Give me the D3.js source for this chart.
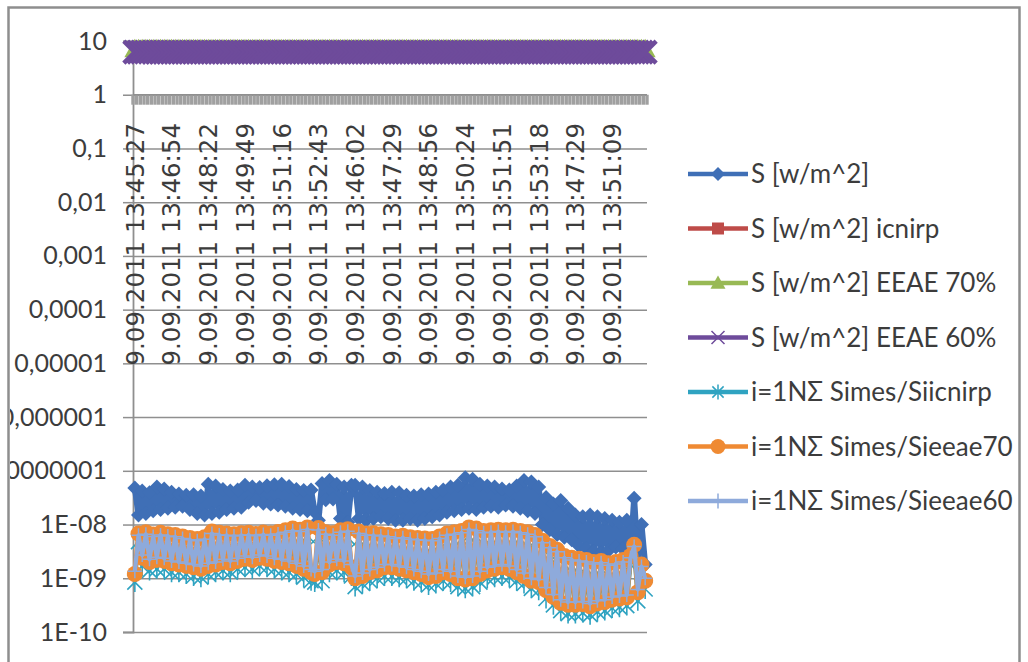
<!DOCTYPE html>
<html>
<head>
<meta charset="utf-8">
<script src="https://cdn.jsdelivr.net/npm/d3@7"></script>
<style>
  html, body { margin: 0; padding: 0; background: #fff; }
  svg { display: block; }
</style>
</head>
<body>
<div id="chart"></div>
<script>
// x tick labels, one every `labelEvery` samples
const tickLabels = [
  '9.09.2011 13:45:27', '9.09.2011 13:46:54', '9.09.2011 13:48:22', '9.09.2011 13:49:49',
  '9.09.2011 13:51:16', '9.09.2011 13:52:43', '9.09.2011 13:46:02', '9.09.2011 13:47:29',
  '9.09.2011 13:48:56', '9.09.2011 13:50:24', '9.09.2011 13:51:51', '9.09.2011 13:53:18',
  '9.09.2011 13:47:29', '9.09.2011 13:51:09'
];
const labelEvery = 10;

const yTicks = [10, 1, 0.1, 0.01, 0.001, 1e-4, 1e-5, 1e-6, 1e-7, 1e-8, 1e-9, 1e-10];
const yTickLabels = ['10', '1', '0,1', '0,01', '0,001', '0,0001', '0,00001', '0,000001',
  '0,0000001', '1E-08', '1E-09', '1E-10'];

// limits (constant lines)
const limitIcnirp = 6.5;
const limitEeae70 = 7.0;
const limitEeae60 = 6.2;

// S [w/m^2]
const sTotal = [
  4.8e-8, 1.5e-8, 4.2e-8, 1.6e-8, 3.9e-8, 1.8e-8, 5.0e-8, 1.9e-8, 4.6e-8, 2.0e-8,
  4.0e-8, 2.1e-8, 3.7e-8, 2.2e-8, 3.5e-8, 1.9e-8, 3.6e-8, 1.6e-8, 3.4e-8, 1.5e-8,
  5.6e-8, 1.6e-8, 5.2e-8, 1.7e-8, 4.5e-8, 1.9e-8, 4.2e-8, 2.0e-8, 4.4e-8, 2.1e-8,
  5.4e-8, 2.6e-8, 5.0e-8, 2.8e-8, 4.9e-8, 2.5e-8, 5.3e-8, 2.4e-8, 5.5e-8, 2.3e-8,
  5.6e-8, 2.2e-8, 5.1e-8, 2.0e-8, 4.5e-8, 1.9e-8, 4.3e-8, 1.8e-8, 4.4e-8, 1.7e-8,
  1.2e-8, 5.8e-8, 2.9e-8, 6.6e-8, 3.0e-8, 5.6e-8, 1.3e-8, 5.0e-8, 1.1e-8, 5.4e-8,
  5.4e-8, 1.3e-8, 5.0e-8, 1.2e-8, 4.3e-8, 1.3e-8, 4.0e-8, 1.4e-8, 3.8e-8, 1.3e-8,
  4.0e-8, 1.2e-8, 3.9e-8, 1.2e-8, 3.5e-8, 1.3e-8, 3.4e-8, 1.2e-8, 3.6e-8, 1.3e-8,
  3.7e-8, 1.4e-8, 4.0e-8, 1.5e-8, 4.4e-8, 1.7e-8, 5.0e-8, 1.8e-8, 5.4e-8, 1.9e-8,
  7.4e-8, 2.0e-8, 7.0e-8, 1.9e-8, 5.6e-8, 2.1e-8, 5.2e-8, 2.2e-8, 5.0e-8, 2.1e-8,
  4.6e-8, 2.3e-8, 4.4e-8, 2.2e-8, 5.2e-8, 2.0e-8, 6.6e-8, 1.8e-8, 6.2e-8, 1.6e-8,
  5.0e-8, 1.0e-8, 3.2e-8, 8.0e-9, 2.4e-8, 6.5e-9, 2.8e-8, 5.8e-9, 2.0e-8, 5.2e-9,
  1.5e-8, 4.0e-9, 1.4e-8, 3.6e-9, 1.5e-8, 3.2e-9, 1.4e-8, 3.0e-9, 1.3e-8, 3.3e-9,
  1.2e-8, 3.8e-9, 1.1e-8, 3.5e-9, 1.2e-8, 2.8e-9, 3.1e-8, 2.2e-9, 1.0e-8, 1.8e-9
];

// i=1NΣ Simes/Siicnirp
const sRatioIcnirp = [
  8.5e-10, 4.8e-9, 1.7e-9, 5.0e-9, 1.4e-9, 4.6e-9, 1.5e-9, 4.9e-9, 1.5e-9, 4.6e-9,
  1.3e-9, 4.5e-9, 1.3e-9, 4.2e-9, 1.2e-9, 3.9e-9, 1.1e-9, 3.8e-9, 1.05e-9, 4.1e-9,
  1.2e-9, 5.2e-9, 1.3e-9, 4.9e-9, 1.4e-9, 4.8e-9, 1.3e-9, 4.6e-9, 1.5e-9, 4.8e-9,
  1.6e-9, 4.9e-9, 1.5e-9, 4.7e-9, 1.7e-9, 5.0e-9, 1.6e-9, 4.8e-9, 1.5e-9, 5.1e-9,
  1.4e-9, 5.5e-9, 1.3e-9, 5.9e-9, 1.2e-9, 5.6e-9, 1.05e-9, 6.2e-9, 9.0e-10, 8.5e-10,
  6.0e-9, 9.0e-10, 5.0e-9, 1.3e-9, 4.8e-9, 1.4e-9, 5.5e-9, 1.3e-9, 5.7e-9, 1.1e-9,
  7.0e-10, 5.2e-9, 8.0e-10, 4.8e-9, 9.0e-10, 4.8e-9, 1.0e-9, 4.6e-9, 1.1e-9, 4.5e-9,
  1.1e-9, 4.2e-9, 1.05e-9, 4.3e-9, 1.0e-9, 4.1e-9, 9.0e-10, 3.9e-9, 8.5e-10, 3.9e-9,
  7.5e-10, 3.8e-9, 8.0e-10, 4.2e-9, 9.0e-10, 4.8e-9, 8.5e-10, 5.0e-9, 7.0e-10, 5.3e-9,
  6.5e-10, 6.2e-9, 7.0e-10, 5.9e-9, 8.5e-10, 5.3e-9, 1.0e-9, 5.5e-9, 1.05e-9, 5.6e-9,
  1.1e-9, 5.5e-9, 1.05e-9, 5.6e-9, 9.0e-10, 5.3e-9, 8.0e-10, 5.0e-9, 6.5e-10, 4.5e-9,
  6.0e-10, 3.5e-9, 4.2e-10, 2.8e-9, 3.2e-10, 2.4e-9, 2.5e-10, 1.8e-9, 2.2e-10, 1.7e-9,
  2.2e-10, 1.6e-9, 2.3e-10, 1.5e-9, 2.1e-10, 1.4e-9, 2.4e-10, 1.5e-9, 2.5e-10, 1.3e-9,
  2.8e-10, 1.4e-9, 2.9e-10, 1.5e-9, 3.1e-10, 1.8e-9, 2.9e-9, 3.8e-10, 1.3e-9, 6.3e-10
];

// i=1NΣ Simes/Sieeae70
const sRatio70 = [
  1.2e-9, 6.8e-9, 2.4e-9, 7.2e-9, 2.0e-9, 6.5e-9, 2.2e-9, 7.0e-9, 2.1e-9, 6.6e-9,
  1.9e-9, 6.4e-9, 1.8e-9, 6.0e-9, 1.7e-9, 5.6e-9, 1.6e-9, 5.4e-9, 1.5e-9, 5.8e-9,
  1.7e-9, 7.4e-9, 1.8e-9, 7.0e-9, 2.0e-9, 6.8e-9, 1.9e-9, 6.6e-9, 2.1e-9, 6.9e-9,
  2.3e-9, 7.0e-9, 2.2e-9, 6.7e-9, 2.4e-9, 7.1e-9, 2.3e-9, 6.8e-9, 2.1e-9, 7.3e-9,
  2.0e-9, 7.8e-9, 1.9e-9, 8.4e-9, 1.7e-9, 8.0e-9, 1.5e-9, 8.8e-9, 1.3e-9, 1.2e-9,
  8.6e-9, 1.3e-9, 7.2e-9, 1.8e-9, 6.9e-9, 2.0e-9, 7.8e-9, 1.9e-9, 8.2e-9, 1.6e-9,
  1.0e-9, 7.4e-9, 1.1e-9, 6.8e-9, 1.3e-9, 6.9e-9, 1.4e-9, 6.6e-9, 1.6e-9, 6.4e-9,
  1.6e-9, 6.0e-9, 1.5e-9, 6.2e-9, 1.4e-9, 5.8e-9, 1.3e-9, 5.6e-9, 1.2e-9, 5.5e-9,
  1.05e-9, 5.4e-9, 1.1e-9, 6.0e-9, 1.3e-9, 6.8e-9, 1.2e-9, 7.2e-9, 1.0e-9, 7.6e-9,
  9.5e-10, 8.8e-9, 1.0e-9, 8.4e-9, 1.2e-9, 7.6e-9, 1.4e-9, 7.8e-9, 1.5e-9, 8.0e-9,
  1.6e-9, 7.8e-9, 1.5e-9, 8.0e-9, 1.3e-9, 7.6e-9, 1.1e-9, 7.2e-9, 9.0e-10, 6.4e-9,
  8.5e-10, 5.0e-9, 6.0e-10, 4.0e-9, 4.5e-10, 3.4e-9, 3.5e-10, 2.6e-9, 3.2e-10, 2.4e-9,
  3.2e-10, 2.3e-9, 3.3e-10, 2.2e-9, 3.0e-10, 2.0e-9, 3.4e-10, 2.1e-9, 3.6e-10, 1.9e-9,
  4.0e-10, 2.0e-9, 4.2e-10, 2.2e-9, 4.4e-10, 2.6e-9, 4.2e-9, 5.5e-10, 1.8e-9, 9.0e-10
];

// i=1NΣ Simes/Sieeae60
const sRatio60 = [
  1.35e-9, 6.3e-9, 2.7e-9, 6.6e-9, 2.25e-9, 6.0e-9, 2.45e-9, 6.4e-9, 2.35e-9, 6.1e-9,
  2.1e-9, 5.9e-9, 2.0e-9, 5.5e-9, 1.9e-9, 5.2e-9, 1.8e-9, 5.0e-9, 1.7e-9, 5.3e-9,
  1.9e-9, 6.8e-9, 2.0e-9, 6.4e-9, 2.25e-9, 6.3e-9, 2.1e-9, 6.1e-9, 2.35e-9, 6.3e-9,
  2.6e-9, 6.4e-9, 2.45e-9, 6.2e-9, 2.7e-9, 6.5e-9, 2.6e-9, 6.3e-9, 2.35e-9, 6.7e-9,
  2.25e-9, 7.2e-9, 2.1e-9, 7.7e-9, 1.9e-9, 7.4e-9, 1.7e-9, 8.1e-9, 1.45e-9, 1.35e-9,
  7.9e-9, 1.45e-9, 6.6e-9, 2.0e-9, 6.3e-9, 2.25e-9, 7.2e-9, 2.1e-9, 7.5e-9, 1.8e-9,
  1.1e-9, 6.8e-9, 1.25e-9, 6.3e-9, 1.45e-9, 6.3e-9, 1.6e-9, 6.1e-9, 1.8e-9, 5.9e-9,
  1.8e-9, 5.5e-9, 1.7e-9, 5.7e-9, 1.6e-9, 5.3e-9, 1.45e-9, 5.2e-9, 1.35e-9, 5.1e-9,
  1.2e-9, 5.0e-9, 1.25e-9, 5.5e-9, 1.45e-9, 6.3e-9, 1.35e-9, 6.6e-9, 1.1e-9, 7.0e-9,
  1.05e-9, 8.1e-9, 1.1e-9, 7.7e-9, 1.35e-9, 7.0e-9, 1.6e-9, 7.2e-9, 1.7e-9, 7.4e-9,
  1.8e-9, 7.2e-9, 1.7e-9, 7.4e-9, 1.45e-9, 7.0e-9, 1.25e-9, 6.6e-9, 1.0e-9, 5.9e-9,
  9.5e-10, 4.6e-9, 6.7e-10, 3.7e-9, 5.0e-10, 3.1e-9, 4.0e-10, 2.4e-9, 3.6e-10, 2.2e-9,
  3.6e-10, 2.1e-9, 3.7e-10, 2.0e-9, 3.4e-10, 1.85e-9, 3.8e-10, 1.95e-9, 4.0e-10, 1.75e-9,
  4.5e-10, 1.85e-9, 4.7e-10, 2.0e-9, 4.9e-10, 2.4e-9, 3.9e-9, 6.2e-10, 1.65e-9, 1.0e-9
];

const W = 1028, H = 662;
const plot = {left: 133, right: 647, top: 41, bottom: 632};

const svg = d3.select('#chart').append('svg')
  .attr('width', W)
  .attr('height', H);

// outer chart frame
svg.append('rect')
  .attr('x', 8.5).attr('y', 7.5)
  .attr('width', 1011).attr('height', 700)
  .attr('fill', 'none')
  .attr('stroke', '#8e8e8e')
  .attr('stroke-width', 2.5);

const n = sTotal.length;
const cats = d3.range(n);
const x = d3.scaleBand().domain(cats).range([plot.left, plot.right]);
const cx = i => x(i) + x.bandwidth() / 2;
const y = d3.scaleLog().domain([1e-10, 10]).range([plot.bottom, plot.top]);

// gridlines
svg.append('g')
  .attr('transform', `translate(${plot.left},0)`)
  .call(d3.axisLeft(y).tickValues(yTicks).tickSize(-(plot.right - plot.left)).tickFormat(''))
  .call(g => g.select('.domain').remove())
  .call(g => g.selectAll('line').attr('stroke', '#8f8f8f').attr('stroke-width', 1.5));

// y axis, labels clipped by the chart frame
svg.append('clipPath').attr('id', 'frameClip')
  .append('rect').attr('x', 10).attr('y', 0).attr('width', W).attr('height', H);

svg.append('g')
  .attr('clip-path', 'url(#frameClip)')
  .append('g')
  .attr('transform', `translate(${plot.left},0)`)
  .call(d3.axisLeft(y).tickValues(yTicks).tickSize(10).tickPadding(16)
    .tickFormat((d, i) => yTickLabels[i]))
  .call(g => g.select('.domain').attr('stroke', '#8f8f8f').attr('stroke-width', 1.8))
  .call(g => g.selectAll('line').attr('stroke', '#8f8f8f').attr('stroke-width', 1.5))
  .call(g => g.selectAll('text')
    .attr('fill', '#3c3c3c')
    .style('font-family', 'Lato, sans-serif')
    .style('font-size', '25px'));

// category axis crosses at 1, dense tick marks hang below it
const yCross = y(1);
svg.append('g')
  .selectAll('line')
  .data(d3.range(n + 1))
  .enter().append('line')
  .attr('x1', i => plot.left + i * x.bandwidth())
  .attr('x2', i => plot.left + i * x.bandwidth())
  .attr('y1', yCross)
  .attr('y2', yCross + 10)
  .attr('stroke', '#a0a0a0')
  .attr('stroke-width', 3.4);

svg.append('line')
  .attr('x1', plot.left).attr('x2', plot.right)
  .attr('y1', yCross).attr('y2', yCross)
  .attr('stroke', '#8f8f8f').attr('stroke-width', 1.5);

svg.append('g')
  .selectAll('text')
  .data(tickLabels)
  .enter().append('text')
  .attr('transform', (d, k) => `translate(${cx(k * labelEvery)},123) rotate(-90)`)
  .attr('text-anchor', 'end')
  .attr('dy', '0.36em')
  .attr('fill', '#3c3c3c')
  .style('font-family', '"DejaVu Sans", sans-serif')
  .style('font-size', '24.5px')
  .text(d => d);

// markers
const markerTypes = {
  diamond: {draw(c, r) { c.moveTo(0, -r); c.lineTo(r, 0); c.lineTo(0, r); c.lineTo(-r, 0); c.closePath(); }},
  square: {draw(c, r) { c.rect(-r, -r, 2 * r, 2 * r); }},
  triangle: {draw(c, r) { c.moveTo(0, -r); c.lineTo(r, r * 0.75); c.lineTo(-r, r * 0.75); c.closePath(); }},
  circle: {draw(c, r) { c.moveTo(r, 0); c.arc(0, 0, r, 0, 2 * Math.PI); }},
  times: {draw(c, r) { c.moveTo(-r, -r); c.lineTo(r, r); c.moveTo(r, -r); c.lineTo(-r, r); }},
  asterisk: {draw(c, r) {
    const a = r * 0.75;
    c.moveTo(-a, -a); c.lineTo(a, a); c.moveTo(a, -a); c.lineTo(-a, a);
    c.moveTo(0, -r); c.lineTo(0, r);
  }},
  plus: {draw(c, r) { c.moveTo(0, -r); c.lineTo(0, r); c.moveTo(-r, 0); c.lineTo(r, 0); }}
};

const series = [
  {name: 'S [w/m^2]', values: sTotal, color: '#3f6fb6', marker: 'diamond', r: 7.5, filled: true, lw: 6, lr: 7},
  {name: 'S [w/m^2] icnirp', values: cats.map(() => limitIcnirp), color: '#be4b48', marker: 'square', r: 5, filled: true, lw: 3.5, lr: 6},
  {name: 'S [w/m^2] EEAE 70%', values: cats.map(() => limitEeae70), color: '#98b954', marker: 'triangle', r: 10.5, filled: true, lw: 3.5, lr: 7.5},
  {name: 'S [w/m^2] EEAE 60%', values: cats.map(() => limitEeae60), color: '#6e4b9b', marker: 'times', r: 11, filled: false, mw: 4.5, lw: 3.5, lr: 6.5, lmw: 1.5},
  {name: 'i=1NΣ Simes/Siicnirp', values: sRatioIcnirp, color: '#2fa3c1', marker: 'asterisk', r: 10, filled: false, mw: 1.6, lw: 4, lr: 7.5, lmw: 1.5},
  {name: 'i=1NΣ Simes/Sieeae70', values: sRatio70, color: '#ef8a33', marker: 'circle', r: 8, filled: true, lw: 5, lr: 7.5},
  {name: 'i=1NΣ Simes/Sieeae60', values: sRatio60, color: '#8eaadb', marker: 'plus', r: 7, filled: false, mw: 1.5, lw: 4.2, lr: 7.5}
];

const line = d3.line()
  .x((d, i) => cx(i))
  .y(d => y(d));

function styleMarker(sel, s, w) {
  if (s.filled) sel.attr('fill', s.color).attr('stroke', 'none');
  else sel.attr('fill', 'none').attr('stroke', s.color).attr('stroke-width', w);
}

series.forEach(s => {
  const g = svg.append('g');
  g.append('path')
    .datum(s.values)
    .attr('d', line)
    .attr('fill', 'none')
    .attr('stroke', s.color)
    .attr('stroke-width', s.lw)
    .attr('stroke-linejoin', 'round');
  const sym = d3.symbol().type(markerTypes[s.marker]).size(s.r);
  g.selectAll('path.m')
    .data(s.values)
    .enter().append('path')
    .attr('class', 'm')
    .attr('transform', (d, i) => `translate(${cx(i)},${y(d)})`)
    .attr('d', sym)
    .call(sel => styleMarker(sel, s, s.mw));
});

// legend
const legendTop = 174, legendStep = 54.5;
const legend = svg.append('g');
series.forEach((s, k) => {
  const ly = legendTop + k * legendStep;
  legend.append('line')
    .attr('x1', 688).attr('x2', 748)
    .attr('y1', ly).attr('y2', ly)
    .attr('stroke', s.color).attr('stroke-width', 4.5);
  legend.append('path')
    .attr('transform', `translate(718,${ly})`)
    .attr('d', d3.symbol().type(markerTypes[s.marker]).size(s.lr))
    .call(sel => styleMarker(sel, s, s.lmw || s.mw));
  legend.append('text')
    .attr('x', 751).attr('y', ly)
    .attr('dy', '0.35em')
    .attr('fill', '#3c3c3c')
    .style('font-family', 'Lato, sans-serif')
    .style('font-size', '26px')
    .text(s.name);
});
</script>
</body>
</html>
